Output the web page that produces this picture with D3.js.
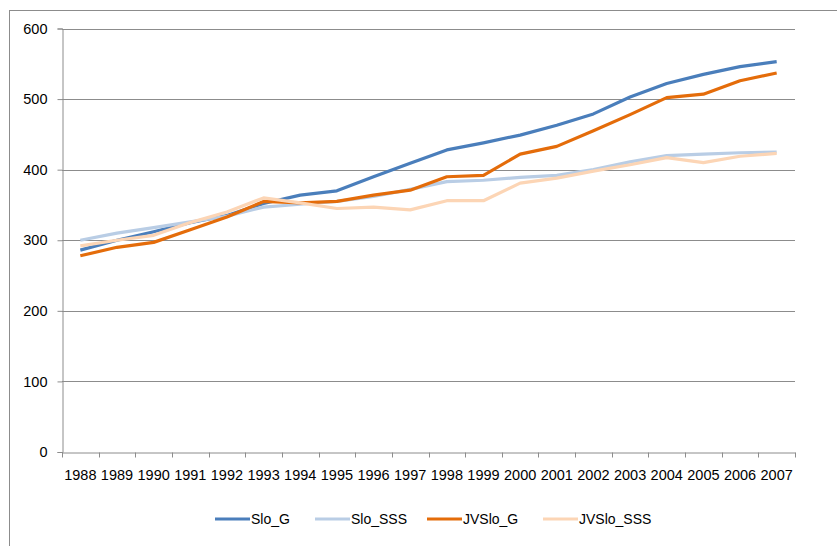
<!DOCTYPE html>
<html>
<head>
<meta charset="utf-8">
<script src="https://cdn.jsdelivr.net/npm/d3@7"></script>
<style>
  body { margin: 0; background: #fff; }
  svg { font-family: "Liberation Sans", Arial, sans-serif; }
</style>
</head>
<body>
<div id="chart"></div>
<script>
var years = ["1988","1989","1990","1991","1992","1993","1994","1995","1996","1997",
             "1998","1999","2000","2001","2002","2003","2004","2005","2006","2007"];
var sloG     = [286, 300, 312, 325, 335, 352, 364, 370, 390, 409, 428, 438, 449, 463, 479, 503, 522, 535, 546, 553];
var sloSSS   = [300, 310, 318, 326, 334, 347, 351, 355, 362, 372, 383, 385, 389, 392, 400, 411, 420, 422, 424, 425];
var jvSloG   = [278, 290, 297, 315, 333, 355, 353, 355, 364, 371, 390, 392, 422, 433, 455, 478, 502, 507, 526, 537];
var jvSloSSS = [292, 300, 307, 325, 340, 360, 353, 345, 347, 343, 356, 356, 381, 388, 398, 407, 417, 410, 419, 423];
var seriesNames = ["Slo_G", "Slo_SSS", "JVSlo_G", "JVSlo_SSS"];
var yTicks = [0, 100, 200, 300, 400, 500, 600];

var series = [sloG, sloSSS, jvSloG, jvSloSSS];
var colors = ["#4a7ebb", "#b9cde5", "#e46c0a", "#fcd5b5"];

var W = 837, H = 546;
var margin = {top: 28.5, left: 62, right: 42, bottom: 94};

var svg = d3.select("#chart").append("svg")
    .attr("width", W).attr("height", H);

// chart frame (cropped at right and bottom like the source)
svg.append("rect")
    .attr("x", 9.5).attr("y", 10.5)
    .attr("width", W).attr("height", H)
    .attr("fill", "none").attr("stroke", "#8c8c8c");

var x = d3.scaleBand().domain(years)
    .range([margin.left, W - margin.right]);
var y = d3.scaleLinear().domain([0, 600])
    .range([H - margin.bottom, margin.top]);

//gridlines
svg.append("g").selectAll("line")
    .data(yTicks.slice(1))
    .enter().append("line")
    .attr("x1", margin.left).attr("x2", W - margin.right)
    .attr("y1", function (d) { return Math.round(y(d)) + 0.5; })
    .attr("y2", function (d) { return Math.round(y(d)) + 0.5; })
    .attr("stroke", "#8c8c8c").attr("stroke-width", 1);

//y axis
var yAxis = d3.axisLeft(y).tickValues(yTicks).tickSize(5).tickPadding(10);
var gy = svg.append("g")
    .attr("transform", "translate(" + (margin.left + 0.5) + ",0)")
    .call(yAxis);
gy.select(".domain").attr("stroke", "#8c8c8c");
gy.selectAll(".tick line").attr("stroke", "#8c8c8c");
gy.selectAll("text").attr("font-size", 14.5).attr("fill", "#000");

//x axis with ticks at band edges
var xAxis = d3.axisBottom(x).tickSize(0).tickPadding(17);
var gx = svg.append("g")
    .attr("transform", "translate(0," + (Math.round(y(0)) + 0.5) + ")")
    .call(xAxis);
gx.select(".domain").attr("stroke", "#8c8c8c");
gx.selectAll("text").attr("font-size", 14.5).attr("fill", "#000");
gx.selectAll(".edge")
    .data(years.concat(["end"]))
    .enter().append("line")
    .attr("x1", function (d, i) { return Math.round(margin.left + i * x.step()) + 0.5; })
    .attr("x2", function (d, i) { return Math.round(margin.left + i * x.step()) + 0.5; })
    .attr("y1", 0).attr("y2", 5)
    .attr("stroke", "#8c8c8c");

//lines
var line = d3.line()
    .x(function (d, i) { return x(years[i]) + x.bandwidth() / 2; })
    .y(function (d) { return y(d); });

svg.append("g").selectAll("path")
    .data(series)
    .enter().append("path")
    .attr("d", line)
    .attr("fill", "none")
    .attr("stroke", function (d, i) { return colors[i]; })
    .attr("stroke-width", 3.2)
    .attr("stroke-linejoin", "round");

//legend
var legendX = [215, 315, 427, 543];
var lg = svg.append("g").attr("transform", "translate(0,519)");
var item = lg.selectAll("g").data(seriesNames).enter().append("g")
    .attr("transform", function (d, i) { return "translate(" + legendX[i] + ",0)"; });
item.append("line")
    .attr("x1", 0).attr("x2", 35).attr("y1", 0).attr("y2", 0)
    .attr("stroke", function (d, i) { return colors[i]; })
    .attr("stroke-width", 3.2);
item.append("text")
    .attr("x", 36).attr("y", 0).attr("dy", "0.35em")
    .attr("font-size", 14)
    .text(function (d) { return d; });
</script>
</body>
</html>
